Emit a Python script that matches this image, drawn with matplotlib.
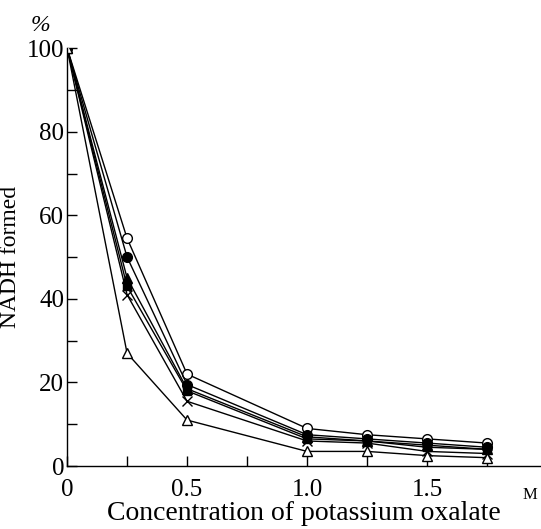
import matplotlib
matplotlib.use("Agg")
import matplotlib.pyplot as plt
from matplotlib.ticker import MultipleLocator, FixedLocator

conc = [0, 0.25, 0.5, 1.0, 1.25, 1.5, 1.75]
open_circle = [100, 54.5, 22, 9, 7.5, 6.5, 5.5]
filled_circle = [100, 50, 19.5, 7.5, 6.5, 5.5, 4.5]
filled_triangle = [100, 45, 18.5, 7, 6, 5, 4]
filled_square = [100, 43, 18, 6.5, 6, 4.5, 4]
cross = [100, 41, 15.5, 6, 5.5, 3.5, 3]
open_triangle = [100, 27, 11, 3.5, 3.5, 2.5, 2]

yticks = [0, 20, 40, 60, 80, 100]
xticks = [0, 0.5, 1.0, 1.5]
xticklabels = ["0", "0.5", "1.0", "1.5"]

plt.rcParams['font.family'] = ['Liberation Serif', 'DejaVu Serif']

fig = plt.figure(figsize=(5.41, 5.29), dpi=100)
ax = fig.add_axes([0.124, 0.119, 0.876, 0.790])

lw = 1.0
ms = 7
ax.plot(conc, open_circle, '-', color='black', lw=lw, marker='o', ms=ms,
        mfc='white', mec='black', mew=1.0)
ax.plot(conc, filled_circle, '-', color='black', lw=lw, marker='o', ms=ms,
        mfc='black', mec='black')
ax.plot(conc, filled_triangle, '-', color='black', lw=lw, marker='^', ms=ms,
        mfc='black', mec='black')
ax.plot(conc, filled_square, '-', color='black', lw=lw, marker='s', ms=ms - 1,
        mfc='black', mec='black')
ax.plot(conc, cross, '-', color='black', lw=lw, marker='x', ms=ms,
        mfc='black', mec='black', mew=1.0)
ax.plot(conc, open_triangle, '-', color='black', lw=lw, marker='^', ms=ms,
        mfc='white', mec='black', mew=1.0)

ax.set_xlim(0, 1.975)
ax.set_ylim(0, 100)

for s in ['top', 'right']:
    ax.spines[s].set_visible(False)
for s in ['left', 'bottom']:
    ax.spines[s].set_linewidth(1.0)

ax.yaxis.set_major_locator(FixedLocator(yticks))
ax.yaxis.set_minor_locator(MultipleLocator(10))
ax.xaxis.set_major_locator(FixedLocator(xticks))
ax.set_xticklabels(xticklabels)
ax.xaxis.set_minor_locator(FixedLocator([0.25, 0.75, 1.25, 1.75]))
ax.tick_params(axis='both', which='both', direction='in', length=7, width=1.0,
               labelsize=18)
ax.tick_params(axis='y', which='major', pad=2)
ax.tick_params(axis='x', which='major', pad=9)

ax.set_ylabel("NADH formed", fontsize=17, labelpad=4)
ax.set_xlabel("Concentration of potassium oxalate", fontsize=20, labelpad=0)

ax.text(-0.07, 103, "%", fontsize=17, style='italic', ha='right', va='bottom',
        transform=ax.transData, clip_on=False)
ax.text(1.93, -5, "M", fontsize=12, ha='center', va='top',
        transform=ax.transData, clip_on=False)

fig.savefig("out.png", dpi=100)
